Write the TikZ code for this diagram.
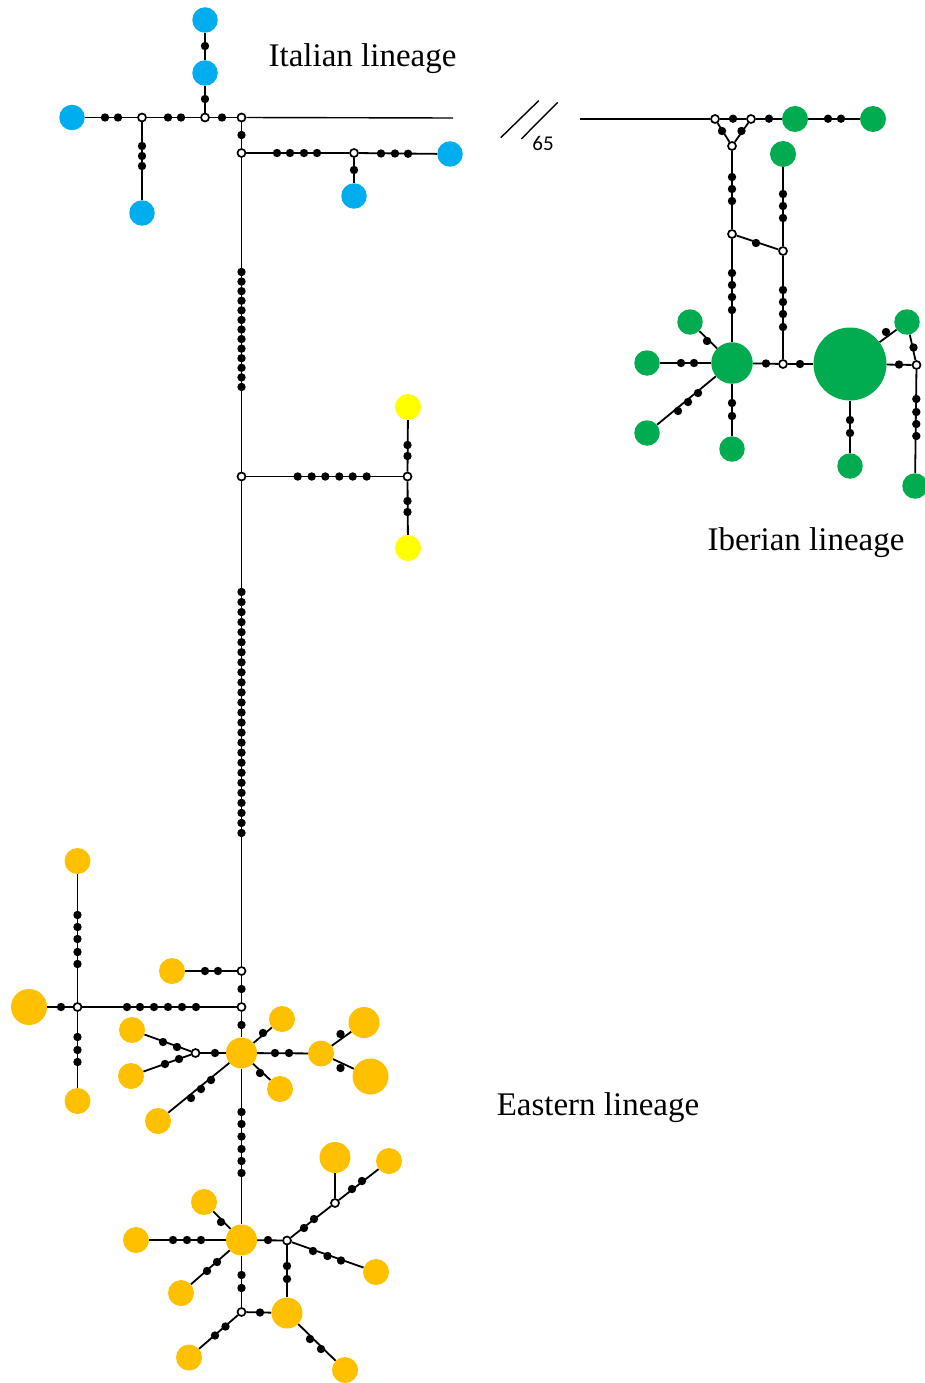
\documentclass[tikz,border=0pt]{standalone}
\usepackage{fontspec}
\setmainfont{Liberation Serif}
\newfontfamily\numfont{Carlito}
\usetikzlibrary{backgrounds}
\definecolor{cblue}{HTML}{00AEEF}
\definecolor{cgreen}{HTML}{00AC4F}
\definecolor{corange}{HTML}{FFC000}
\definecolor{cyellow}{HTML}{FFFF00}
\begin{document}
\begin{tikzpicture}[x=1pt,y=-1pt,
  edge/.style={line width=1.8pt},
  thinedge/.style={line width=1.4pt},
  dotn/.style={circle,fill=black,inner sep=0pt,minimum size=8.4pt},
  mv/.style={circle,draw=black,fill=white,line width=1.7pt,inner sep=0pt,minimum size=8pt},
  blu/.style={circle,inner sep=0pt,fill=cblue,minimum size=#1},
  blu/.default=25.5pt,
  grn/.style={circle,inner sep=0pt,fill=cgreen,minimum size=#1},
  grn/.default=25.5pt,
  org/.style={circle,inner sep=0pt,fill=corange,minimum size=#1},
  org/.default=26pt,
  yel/.style={circle,inner sep=0pt,fill=cyellow,minimum size=#1},
  yel/.default=26pt,
  lbl/.style={font=\fontsize{33}{40}\selectfont,anchor=base,inner sep=0pt}]
\useasboundingbox (0,0) rectangle (925,1383);

% ---------------- Italian lineage ----------------
\node[blu] (b1) at (205,20) {};
\node[blu] (b2) at (205,73) {};
\node[blu] (b3) at (72,117.5) {};
\node[blu] (b4) at (142,213) {};
\node[blu] (b5) at (450,154) {};
\node[blu] (b6) at (354,196) {};
\node[mv] (m1) at (142,117.5) {};
\node[mv] (m2) at (205,117.5) {};
\node[mv] (m3) at (241.5,117.5) {};
\node[mv] (m4) at (241.5,153) {};
\node[mv] (m5) at (354,153) {};
\coordinate (itEnd) at (453,118);
\foreach \x/\y [count=\i] in {205/46,205/99,105/117.5,118/117.5,168/117.5,181/117.5,222/117.5,142/146,142/156,142/166,241.5/135,277/153,290/153,304/153,317/153,381/153.5,395/153.5,408/153.7,354/170}
  \node[dotn] (it\i) at (\x,\y) {};
\foreach \i in {0,...,12}
  \node[dotn] (ca\i) at (241.5,{272+\i*9.58}) {};

% ---------------- yellow ----------------
\node[mv] (m6) at (241.5,476.5) {};
\node[mv] (m7) at (407.5,476.5) {};
\node[yel] (y1) at (408,407) {};
\node[yel] (y2) at (408,548) {};
\foreach \x/\y [count=\i] in {297.7/476.5,311.7/476.5,325.3/476.5,339.3/476.5,352.7/476.5,366.7/476.5,407.5/445,407.5/456,407.5/501,407.5/512}
  \node[dotn] (ye\i) at (\x,\y) {};
\foreach \i in {0,...,24}
  \node[dotn] (cb\i) at (241.5,{592+\i*10.04}) {};

% ---------------- break ----------------
\draw[thinedge] (500.7,137.7) -- (538.7,100.7);
\draw[thinedge] (521.3,139) -- (557.7,102.3);
\node[font=\numfont\fontsize{21}{25}\selectfont,inner sep=0pt] (n65) at (543,143) {65};

% ---------------- Iberian lineage ----------------
\coordinate (ibStart) at (580,119);
\node[mv] (i1) at (715,119) {};
\node[mv] (i2) at (751,119) {};
\node[mv] (i3) at (732,146) {};
\node[mv] (i4) at (732,234) {};
\node[mv] (i5) at (783,251) {};
\node[mv] (i6) at (783,364) {};
\node[mv] (i7) at (916.5,365) {};
\node[grn=26pt] (g1) at (795,119) {};
\node[grn=26pt] (g2) at (873,119) {};
\node[grn=26pt] (g3) at (783,154) {};
\node[grn=41.5pt] (gH1) at (732,363) {};
\node[grn=73pt] (gH2) at (850,364) {};
\node[grn] (g4) at (907,322) {};
\node[grn] (g5) at (690,322) {};
\node[grn] (g6) at (647,363) {};
\node[grn] (g7) at (647,433) {};
\node[grn] (g8) at (732,449) {};
\node[grn] (g9) at (850,466) {};
\node[grn] (g10) at (915,486) {};
\foreach \x/\y [count=\i] in {733/118.7,769/118.7,828/118.7,841/118.7,722/131,741.5/131,732/177,732/189,732/201,756/243,783/194,783/206,783/218,732/273,732/285,732/297,732/310,783/290,783/302,783/314,783/327,766/363.5,800/364,899/364.5,886/332,913.5/347.5,916.3/399,916.3/412,916.3/424,916.3/436,850/420,850/433,707/341,681/363,694/363,678/411,688/402,698/393,732/403,732/416}
  \node[dotn] (ib\i) at (\x,\y) {};

% ---------------- Eastern lineage ----------------
\node[org] (o1) at (77.5,861) {};
\node[org=36pt] (o2) at (29,1007) {};
\node[org] (o3) at (77.5,1101) {};
\node[mv] (e1) at (77.5,1007) {};
\node[mv] (e2) at (241.5,971) {};
\node[mv] (e3) at (241.5,1007) {};
\node[org] (o4) at (172,971) {};
\node[org=31pt] (hubA) at (241.5,1053) {};
\node[org] (o5) at (282,1019) {};
\node[org] (o6) at (321,1053.5) {};
\node[org=31pt] (o7) at (364,1022.5) {};
\node[org=36pt] (o8) at (370.5,1076.5) {};
\node[org] (o9) at (280,1089) {};
\node[mv] (e4) at (195.5,1053) {};
\node[org] (o10) at (132,1030) {};
\node[org] (o11) at (131,1076) {};
\node[org] (o12) at (158,1121) {};
\node[org=31pt] (hubB) at (241.5,1240) {};
\node[org] (o13) at (204,1202) {};
\node[org] (o14) at (136,1240) {};
\node[org] (o15) at (181,1293) {};
\node[mv] (e5) at (287,1240.5) {};
\node[mv] (e6) at (335,1203) {};
\node[org=31pt] (o16) at (335,1157.5) {};
\node[org] (o17) at (389,1161) {};
\node[org] (o18) at (376,1272) {};
\node[org=31pt] (o19) at (287,1313) {};
\node[mv] (e7) at (241.5,1312) {};
\node[org] (o20) at (189,1357.5) {};
\node[org] (o21) at (345,1370) {};
\foreach \x/\y [count=\i] in {77.5/915,77.5/927,77.5/939,77.5/952,77.5/964,61/1007,77.5/1037,77.5/1050,77.5/1062,127/1007,140/1007,154/1007,168/1007,182/1007,196/1007,205/971,218/971,241.5/989,241.5/1025,263/1033,275/1053,289/1053,340.5/1034,340.5/1068,260/1073,215/1053,177/1047,163/1042,179/1059,165/1064,211/1080,201/1089,191/1098,241.5/1112,241.5/1124,241.5/1136.5,241.5/1149,241.5/1161,241.5/1173}
  \node[dotn] (ea\i) at (\x,\y) {};
\foreach \x/\y [count=\i] in {221/1222,173/1240,187/1240,201/1240,217/1262,207/1271,268/1240,304/1228,314/1219,352/1189,362/1181,313/1251,327.5/1256,341/1260.5,287/1266,287/1279,241.5/1275,241.5/1288,260/1312.5,225.5/1326.5,215/1335.5,310/1339,321/1349}
  \node[dotn] (eb\i) at (\x,\y) {};

% ---------------- labels ----------------
\node[lbl] (tIt) at (362.5,67) {Italian lineage};
\node[lbl] (tIb) at (806,550) {Iberian lineage};
\node[lbl] (tEa) at (598,1115) {Eastern lineage};

% ---------------- connectors ----------------
\begin{scope}[on background layer]
\draw[edge] (b1) -- (b2);
\draw[edge] (b2) -- (m2);
\draw[edge] (b3) -- (m1);
\draw[edge] (m1) -- (m2);
\draw[edge] (m2) -- (m3);
\draw[thinedge] (m3) -- (itEnd);
\draw[edge] (m1) -- (b4);
\draw[edge] (m3) -- (m4);
\draw[edge] (m4) -- (m5);
\draw[edge] (m5) -- (b5);
\draw[edge] (m5) -- (b6);
\draw[edge] (m4) -- (m6);
\draw[edge] (m6) -- (m7);
\draw[edge] (m7) -- (y1);
\draw[edge] (m7) -- (y2);
\draw[edge] (m6) -- (e2);
% Iberian
\draw[thinedge] (ibStart) -- (i1);
\draw[edge] (i1) -- (i2);
\draw[edge] (i2) -- (g1);
\draw[edge] (g1) -- (g2);
\draw[edge] (i1) -- (i3);
\draw[edge] (i2) -- (i3);
\draw[edge] (i3) -- (i4);
\draw[edge] (i4) -- (i5);
\draw[edge] (g3) -- (i5);
\draw[edge] (i4) -- (gH1);
\draw[edge] (i5) -- (i6);
\draw[edge] (gH1) -- (i6);
\draw[edge] (i6) -- (gH2);
\draw[edge] (gH2) -- (i7);
\draw[edge] (gH2) -- (g4);
\draw[edge] (g4) -- (i7);
\draw[edge] (i7) -- (g10);
\draw[edge] (gH2) -- (g9);
\draw[edge] (gH1) -- (g5);
\draw[edge] (gH1) -- (g6);
\draw[edge] (gH1) -- (g7);
\draw[edge] (gH1) -- (g8);
% Eastern
\draw[edge] (o1) -- (e1);
\draw[edge] (o2) -- (e1);
\draw[edge] (e1) -- (o3);
\draw[edge] (e1) -- (e3);
\draw[edge] (o4) -- (e2);
\draw[edge] (e2) -- (e3);
\draw[edge] (e3) -- (hubA);
\draw[edge] (hubA) -- (o5);
\draw[edge] (hubA) -- (o6);
\draw[edge] (o6) -- (o7);
\draw[edge] (o6) -- (o8);
\draw[edge] (hubA) -- (o9);
\draw[edge] (hubA) -- (e4);
\draw[edge] (e4) -- (o10);
\draw[edge] (e4) -- (o11);
\draw[edge] (hubA) -- (o12);
\draw[edge] (hubA) -- (hubB);
\draw[edge] (hubB) -- (o13);
\draw[edge] (hubB) -- (o14);
\draw[edge] (hubB) -- (o15);
\draw[edge] (hubB) -- (e5);
\draw[edge] (e5) -- (e6);
\draw[edge] (e6) -- (o16);
\draw[edge] (e6) -- (o17);
\draw[edge] (e5) -- (o18);
\draw[edge] (e5) -- (o19);
\draw[edge] (hubB) -- (e7);
\draw[edge] (e7) -- (o19);
\draw[edge] (e7) -- (o20);
\draw[edge] (o19) -- (o21);
\end{scope}
\end{tikzpicture}
\end{document}
